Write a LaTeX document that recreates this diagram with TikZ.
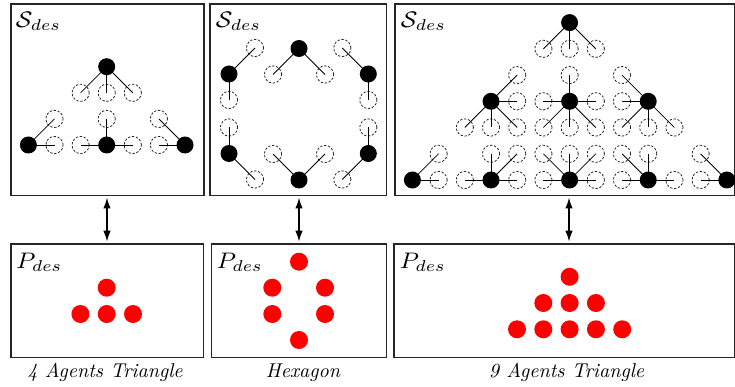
\documentclass[tikz,border=0pt]{standalone}
\usepackage{amsmath}
\usetikzlibrary{arrows.meta}
\tikzset{
  frame/.style={draw=black!85,line width=1.3pt,inner sep=0pt},
  agent/.style={circle,fill=black,inner sep=0pt,minimum size=17pt},
  ghost/.style={circle,draw=black!85,line width=0.8pt,dash pattern=on 2.3pt off 1.7pt,inner sep=0pt,minimum size=17.2pt},
  link/.style={line width=0.8pt,black},
  reddot/.style={circle,fill=red,inner sep=0pt,minimum size=18pt},
  lbl/.style={inner sep=0pt,anchor=base west,xscale=2.45,yscale=2.25,transform shape},
  captext/.style={inner sep=0pt,anchor=base,scale=2.0,transform shape,font=\itshape},
  dart/.style={line width=1.5pt,{Latex[length=11pt,width=7.5pt]}-{Latex[length=11pt,width=7.5pt]}}
}
\newcommand\agentgrp[5]{%
  \node[agent] (#1) at (#2,#3) {};
  \foreach \dx/\dy [count=\k] in {#5}{%
    \node[ghost] (#1g\k) at ({#2+\dx*#4},{#3-\dy*#4}) {};
    \draw[link] (#1.center) -- (#1g\k.center);
  }}
\begin{document}
\begin{tikzpicture}[x=1pt,y=-1pt]
\useasboundingbox (0,0) rectangle (735,387);
% frames
\node[frame,minimum width=193pt,minimum height=191.5pt] (s1) at (107.5,99.75) {};
\node[frame,minimum width=176.7pt,minimum height=191.5pt] (s2) at (298.35,99.75) {};
\node[frame,minimum width=339.3pt,minimum height=191.5pt] (s3) at (564.65,99.75) {};
\node[frame,minimum width=192.5pt,minimum height=113.7pt] (p1) at (107.25,300.85) {};
\node[frame,minimum width=175.2pt,minimum height=113.7pt] (p2) at (299.1,300.85) {};
\node[frame,minimum width=340.3pt,minimum height=113.7pt] (p3) at (564.15,300.85) {};
% labels
\node[lbl] (ls1) at (15.5,27.5) {$\mathcal{S}_{des}$};
\node[lbl] (ls2) at (215.5,27.5) {$\mathcal{S}_{des}$};
\node[lbl] (ls3) at (400.5,27.5) {$\mathcal{S}_{des}$};
\node[lbl] (lp1) at (16,268.5) {$P_{des}$};
\node[lbl] (lp2) at (216.5,268.5) {$P_{des}$};
\node[lbl] (lp3) at (399.5,268.5) {$P_{des}$};
% arrows
\coordinate (a1t) at (107,195.5);
\coordinate (a1b) at (107,244);
\coordinate (a2t) at (299,195.5);
\coordinate (a2b) at (299,244);
\coordinate (a3t) at (569,195.5);
\coordinate (a3b) at (569,244);
\draw[dart,shorten <=2pt,shorten >=2.3pt] (a1t) -- (a1b);
\draw[dart,shorten <=2pt,shorten >=2.3pt] (a2t) -- (a2b);
\draw[dart,shorten <=2pt,shorten >=2.3pt] (a3t) -- (a3b);
% panel 1: 4 agents triangle
\agentgrp{A}{106.7}{66.7}{26.1}{-1/-1,0/-1,1/-1}
\agentgrp{B}{28.4}{145}{26.1}{1/1,1/0}
\agentgrp{C}{106.7}{145}{26.1}{-1/0,0/1,1/0}
\agentgrp{D}{185}{145}{26.1}{-1/1,-1/0}
% panel 2: hexagon
\agentgrp{H1}{299}{48.5}{26}{-1/-1,1/-1}
\agentgrp{H2}{229}{74}{26}{1/1,0/-1}
\agentgrp{H3}{368.3}{74}{26}{-1/1,0/-1}
\agentgrp{H4}{229}{153.5}{26}{0/1,1/-1}
\agentgrp{H5}{368.3}{153.5}{26}{0/1,-1/-1}
\agentgrp{H6}{299}{180}{26}{-1/1,1/1}
% panel 3: 9 agents triangle
\agentgrp{N1}{569.6}{22.6}{26.2}{-1/-1,0/-1,1/-1}
\agentgrp{N2}{491}{101.3}{26.2}{1/1,1/0,-1/-1,0/-1,1/-1}
\agentgrp{N3}{569.6}{101.3}{26.2}{0/1,-1/0,1/0,-1/-1,0/-1,1/-1}
\agentgrp{N4}{648.2}{101.3}{26.2}{-1/1,-1/0,-1/-1,0/-1,1/-1}
\agentgrp{N5}{412.4}{180}{26.2}{1/1,1/0}
\agentgrp{N6}{491}{180}{26.2}{-1/0,0/1,1/1,1/0}
\agentgrp{N7}{569.6}{180}{26.2}{-1/0,-1/1,0/1,1/1,1/0}
\agentgrp{N8}{648.2}{180}{26.2}{-1/0,-1/1,0/1,1/0}
\agentgrp{N9}{726.8}{180}{26.2}{-1/1,-1/0}
% desired positions
\node[reddot] (r11) at (106.7,287.7) {};
\node[reddot] (r12) at (80.4,314) {};
\node[reddot] (r13) at (106.7,314) {};
\node[reddot] (r14) at (133,314) {};
\node[reddot] (r21) at (299,261.7) {};
\node[reddot] (r22) at (272.3,287.7) {};
\node[reddot] (r23) at (325,287.7) {};
\node[reddot] (r24) at (272.3,314) {};
\node[reddot] (r25) at (325,314) {};
\node[reddot] (r26) at (299,340) {};
\node[reddot] (r31) at (569.6,276.8) {};
\node[reddot] (r32) at (543.3,303) {};
\node[reddot] (r33) at (569.6,303) {};
\node[reddot] (r34) at (595.9,303) {};
\node[reddot] (r35) at (517,329.3) {};
\node[reddot] (r36) at (543.3,329.3) {};
\node[reddot] (r37) at (569.6,329.3) {};
\node[reddot] (r38) at (595.9,329.3) {};
\node[reddot] (r39) at (622.2,329.3) {};
% captions
\node[captext] (c1) at (105,377) {4 Agents Triangle};
\node[captext] (c2) at (303,377) {Hexagon};
\node[captext] (c3) at (566.5,377) {9 Agents Triangle};
\end{tikzpicture}
\end{document}
